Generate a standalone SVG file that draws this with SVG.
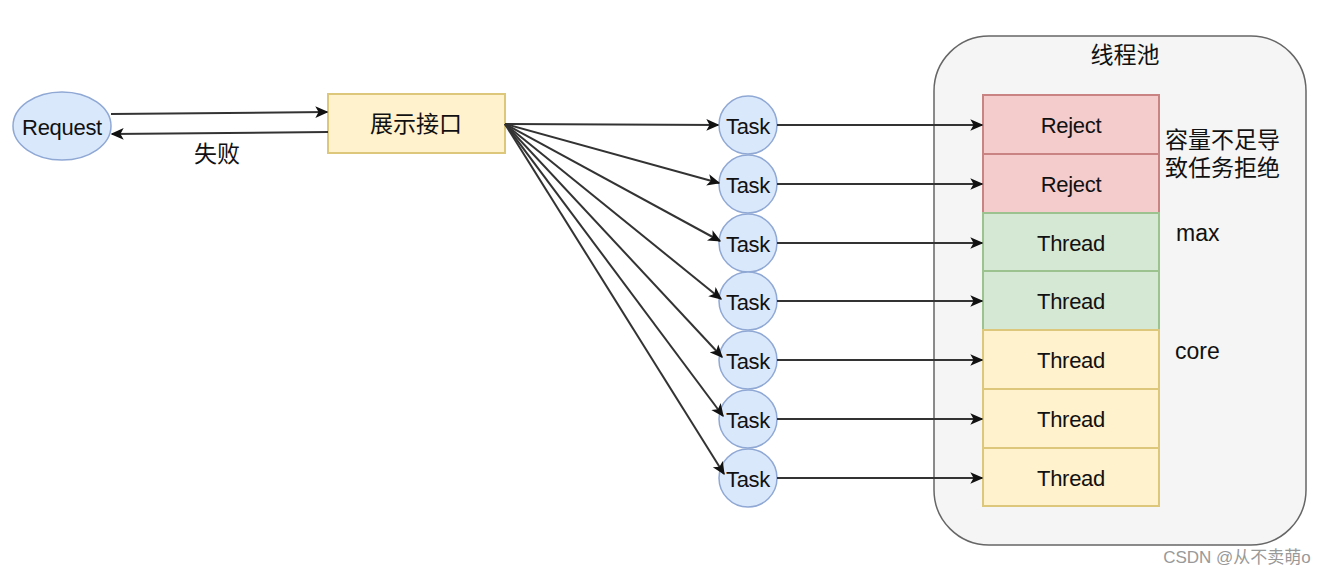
<svg xmlns="http://www.w3.org/2000/svg" width="1330" height="576" viewBox="0 0 1330 576">
<style>
.t{font-family:"Liberation Sans","Noto Sans CJK SC",sans-serif;font-size:22px;fill:#111;text-anchor:middle;dominant-baseline:central;letter-spacing:-0.3px}
.cn{font-family:"Liberation Sans","Noto Sans CJK SC",sans-serif;font-size:23px;fill:#111}
.task{fill:#dae8fc;stroke:#8fa8d4;stroke-width:1.5}
.red{fill:#f4cccc;stroke:#c98383;stroke-width:2}
.green{fill:#d5e8d4;stroke:#9cc28f;stroke-width:2}
.yel{fill:#fff2cc;stroke:#dcc77a;stroke-width:2}
.e{stroke:#333;stroke-width:2;fill:none;marker-end:url(#a)}
</style>
<defs>
<marker id="a" viewBox="0 0 10 10" refX="9" refY="5" markerWidth="13" markerHeight="13" markerUnits="userSpaceOnUse" orient="auto">
<path d="M0,0.5 L10,5 L0,9.5 L2.5,5 Z" fill="#111"/>
</marker>
</defs>
<g id="pool">
<rect x="934" y="36" width="372" height="509" rx="55" fill="#f5f5f5" stroke="#666" stroke-width="1.5"/>
<text class="cn" x="1125" y="63" text-anchor="middle">线程池</text>
</g>
<g id="request">
<ellipse cx="62" cy="126" rx="49" ry="34" class="task"/>
<text class="t" x="62" y="127">Request</text>
</g>
<g id="api">
<rect x="328" y="94" width="177" height="59" class="yel"/>
<text class="cn" x="416" y="132" text-anchor="middle">展示接口</text>
</g>
<g id="tasks">
<g id="task1"><circle cx="748" cy="125" r="29" class="task"/><text class="t" x="748" y="126">Task</text></g>
<g id="task2"><circle cx="748" cy="184" r="29" class="task"/><text class="t" x="748" y="185">Task</text></g>
<g id="task3"><circle cx="748" cy="243" r="29" class="task"/><text class="t" x="748" y="244">Task</text></g>
<g id="task4"><circle cx="748" cy="301" r="29" class="task"/><text class="t" x="748" y="302">Task</text></g>
<g id="task5"><circle cx="748" cy="360" r="29" class="task"/><text class="t" x="748" y="361">Task</text></g>
<g id="task6"><circle cx="748" cy="419" r="29" class="task"/><text class="t" x="748" y="420">Task</text></g>
<g id="task7"><circle cx="748" cy="478" r="29" class="task"/><text class="t" x="748" y="479">Task</text></g>
</g>
<g id="slots">
<g id="reject1"><rect x="983" y="95" width="176" height="59" class="red"/><text class="t" x="1071" y="125">Reject</text></g>
<g id="reject2"><rect x="983" y="154" width="176" height="59" class="red"/><text class="t" x="1071" y="184">Reject</text></g>
<g id="thread1"><rect x="983" y="213" width="176" height="58" class="green"/><text class="t" x="1071" y="243">Thread</text></g>
<g id="thread2"><rect x="983" y="271" width="176" height="59" class="green"/><text class="t" x="1071" y="301">Thread</text></g>
<g id="thread3"><rect x="983" y="330" width="176" height="59" class="yel"/><text class="t" x="1071" y="360">Thread</text></g>
<g id="thread4"><rect x="983" y="389" width="176" height="59" class="yel"/><text class="t" x="1071" y="419">Thread</text></g>
<g id="thread5"><rect x="983" y="448" width="176" height="58" class="yel"/><text class="t" x="1071" y="478">Thread</text></g>
</g>
<g id="connectors">
<path class="e" d="M111,114 L327,112"/>
<path class="e" d="M328,132 L112,134"/>
<path class="e" d="M505,124 L718,125"/>
<path class="e" d="M505,124 L719,183"/>
<path class="e" d="M505,124 L720,241"/>
<path class="e" d="M505,124 L721,299"/>
<path class="e" d="M505,124 L722,357"/>
<path class="e" d="M505,124 L723,416"/>
<path class="e" d="M505,124 L724,474"/>
<path class="e" d="M777,125 L982,125"/>
<path class="e" d="M777,184 L982,184"/>
<path class="e" d="M777,243 L982,243"/>
<path class="e" d="M777,301 L982,301"/>
<path class="e" d="M777,360 L982,360"/>
<path class="e" d="M777,419 L982,419"/>
<path class="e" d="M777,478 L982,478"/>
</g>
<g id="labels">
<text class="cn" x="217" y="162" text-anchor="middle">失败</text>
<text class="cn" x="1165" y="148">容量不足导</text>
<text class="cn" x="1165" y="176">致任务拒绝</text>
<text class="cn" x="1176" y="241" font-size="21">max</text>
<text class="cn" x="1175" y="359" font-size="21">core</text>
<text x="1237" y="563" font-family="Liberation Sans,Noto Sans CJK SC,sans-serif" font-size="17" fill="#999" text-anchor="middle">CSDN @从不卖萌o</text>
</g>
</svg>
